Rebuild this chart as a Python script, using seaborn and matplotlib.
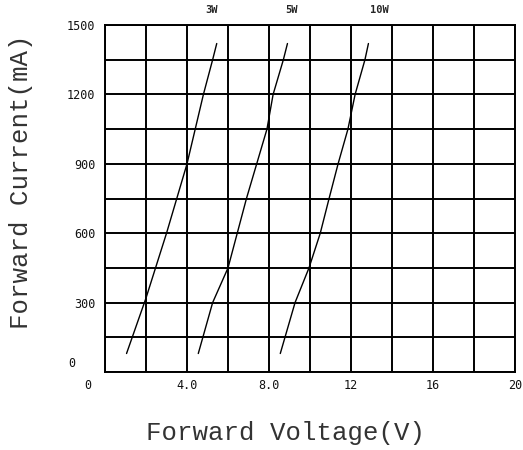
import matplotlib
matplotlib.use("Agg")
import matplotlib.pyplot as plt
import matplotlib.transforms as mtransforms
import seaborn as sns
import pandas as pd

v_3w = [1.05, 2.0, 3.0, 4.0, 4.8, 5.25, 5.45]
i_3w = [80, 320, 600, 900, 1200, 1350, 1420]
v_5w = [4.55, 5.25, 6.0, 6.45, 6.9, 7.4, 7.9, 8.2, 8.7, 8.9]
i_5w = [80, 300, 450, 600, 750, 900, 1050, 1200, 1350, 1420]
v_10w = [8.55, 9.27, 9.95, 10.5, 10.93, 11.37, 11.85, 12.2, 12.68, 12.85]
i_10w = [80, 300, 450, 600, 750, 900, 1050, 1200, 1350, 1420]

series_names = ["3W", "5W", "10W"]
x_ticks = [0, 4, 8, 12, 16, 20]
x_tick_labels = ["0", "4.0", "8.0", "12", "16", "20"]
y_ticks = [0, 300, 600, 900, 1200, 1500]

# where the series names sit above the frame (in volts)
name_pos = [5.2, 9.1, 13.4]

frames = []
for name, v, i in zip(series_names, [v_3w, v_5w, v_10w], [i_3w, i_5w, i_10w]):
    frames.append(pd.DataFrame({"voltage": v, "current": i, "power": name}))
df = pd.concat(frames, ignore_index=True)

sns.set_style("white")
plt.rcParams["font.family"] = ["DejaVu Sans Mono", "DejaVu Sans"]

fig = plt.figure(figsize=(5.23, 4.5), dpi=100)
ax = fig.add_axes([0.2008, 0.1733, 0.7839, 0.7711])

sns.lineplot(data=df, x="voltage", y="current", units="power", estimator=None,
             color="black", linewidth=1.0, sort=False, ax=ax, legend=False)

ax.set_xlim(0, 20)
ax.set_ylim(0, 1500)
for gx in range(0, 21, 2):
    ax.axvline(gx, color="black", linewidth=1.4, zorder=0)
for gy in range(0, 1501, 150):
    ax.axhline(gy, color="black", linewidth=1.4, zorder=0)
for s in ax.spines.values():
    s.set_color("black")
    s.set_linewidth(1.4)

ax.set_xticks(x_ticks)
ax.set_xticklabels(x_tick_labels, fontsize=8.5, color="#111111")
ax.set_yticks(y_ticks)
ax.set_yticklabels([str(t) for t in y_ticks], fontsize=8.5, color="#111111")
ax.tick_params(axis="x", length=0, pad=5)
ax.tick_params(axis="y", length=0, pad=7)

# the zero labels are nudged off the corner in the original
ax.get_xticklabels()[0].set_transform(
    ax.get_xticklabels()[0].get_transform()
    + mtransforms.ScaledTranslation(-0.17, 0, fig.dpi_scale_trans))
ax.get_yticklabels()[0].set_transform(
    ax.get_yticklabels()[0].get_transform()
    + mtransforms.ScaledTranslation(-0.2, 0.1, fig.dpi_scale_trans))

for name, xpos in zip(series_names, name_pos):
    ax.text(xpos, 1545, name, fontsize=7.5, ha="center", va="bottom",
            fontweight="bold")

label_font = {"family": ["Liberation Mono", "DejaVu Sans Mono"], "size": 18.5,
              "color": "#333333"}
ax.set_xlabel("Forward Voltage(V)", fontdict=label_font)
ax.set_ylabel("Forward Current(mA)", fontdict=label_font)
ax.xaxis.set_label_coords(0.44, -0.176)
ax.yaxis.set_label_coords(-0.205, 0.548)
ax.xaxis.label.set_va("center")
ax.yaxis.label.set_va("center")

fig.savefig("out.png", dpi=100)
